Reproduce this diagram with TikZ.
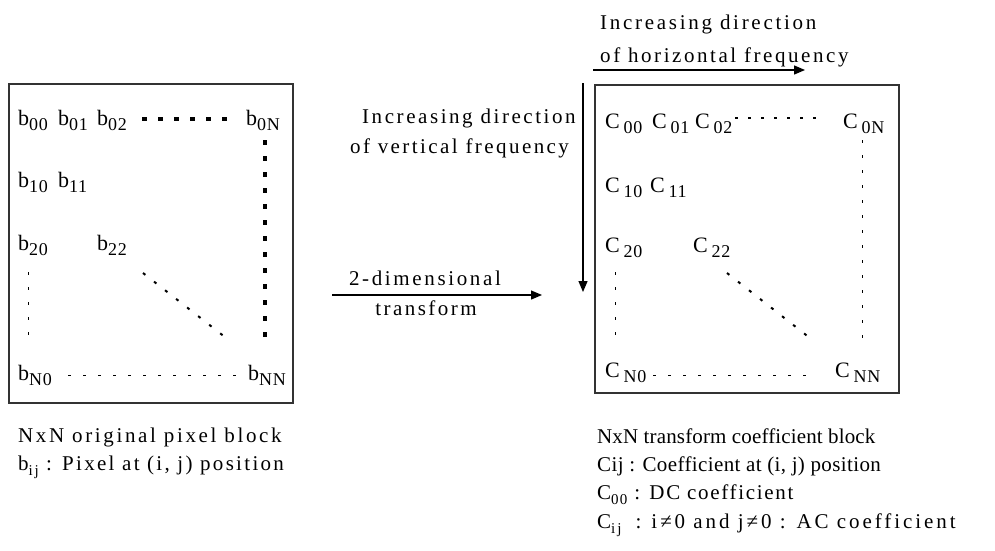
\documentclass[tikz,border=0pt]{standalone}
\usepackage{fontspec}
\setmainfont{Liberation Serif}
\usetikzlibrary{arrows.meta,calc}
\newcommand\lo[2][18]{\raisebox{-5pt}{\fontsize{#1}{#1}\selectfont #2}}
\begin{document}
\begin{tikzpicture}[x=1pt,y=-1pt,
  box/.style={draw=black!80, line width=1.3pt, inner sep=0pt},
  ent/.style={anchor=base west, inner sep=0pt, font=\fontsize{22}{22}\selectfont\addfontfeature{LetterSpace=4}},
  txt/.style={anchor=base west, inner sep=0pt, font=\fontsize{21}{24}\selectfont\addfontfeature{LetterSpace=#1}},
  txt/.default=12,
  bigdots/.style={line width=3.5pt, dash pattern=on 5pt off 11pt},
  meddots/.style={line width=2.8pt, dash pattern=on 3pt off 10pt},
  thindash/.style={line width=1pt, dash pattern=on 3pt off 12pt},
  diag/.style={line width=2pt, dash pattern=on 3pt off 11pt},
  arr/.style={line width=1.3pt, -{Triangle[length=11pt,width=9pt]}}]
\useasboundingbox (0,0) rectangle (995,550);

% boxes
\node[box, minimum width=284pt, minimum height=319pt] (Lbox) at (151,243.5) {};
\node[box, minimum width=304pt, minimum height=308pt] (Rbox) at (747,239) {};

% left entries
\node[ent] (b00) at (18,125) {b\lo{00}};
\node[ent] (b01) at (58,125) {b\lo{01}};
\node[ent] (b02) at (97,125) {b\lo{02}};
\node[ent] (b0N) at (246,125) {b\lo{0N}};
\node[ent] (b10) at (18,187) {b\lo{10}};
\node[ent] (b11) at (58,187) {b\lo{11}};
\node[ent] (b20) at (18,250) {b\lo{20}};
\node[ent] (b22) at (97,250) {b\lo{22}};
\node[ent] (bN0) at (18,380) {b\lo{N0}};
\node[ent] (bNN) at (248,380) {b\lo{NN}};

\draw[bigdots] ($(b02.base west)+(45,-6)$) -- ($(b0N.base west)+(-8,-6)$);
\draw[bigdots] ($(b0N.base west)+(19,15)$) -- ($(bNN.base west)+(17,-37)$);
\draw[thindash] ($(b20.base west)+(10,22)$) -- ($(bN0.base west)+(10,-43)$);
\draw[diag] ($(b22.base west)+(46,23)$) -- ($(bNN.base west)+(-18,-39)$);
\draw[thindash] ($(bN0.base west)+(50,-5)$) -- ($(bNN.base west)+(-11,-5)$);

% right entries
\node[ent] (C00) at (605,128) {C\,\lo{00}};
\node[ent] (C01) at (652,128) {C\,\lo{01}};
\node[ent] (C02) at (695,128) {C\,\lo{02}};
\node[ent] (C0N) at (843,128) {C\,\lo{0N}};
\node[ent] (C10) at (605,192) {C\,\lo{10}};
\node[ent] (C11) at (650,192) {C\,\lo{11}};
\node[ent] (C20) at (605,252) {C\,\lo{20}};
\node[ent] (C22) at (693,252) {C\,\lo{22}};
\node[ent] (CN0) at (605,377) {C\,\lo{N0}};
\node[ent] (CNN) at (835,377) {C\,\lo{NN}};

\draw[meddots] ($(C02.base west)+(40,-10)$) -- ($(C0N.base west)+(-23,-10)$);
\draw[thindash] ($(C0N.base west)+(19,12)$) -- ($(CNN.base west)+(27,-34)$);
\draw[thindash] ($(C20.base west)+(10,20)$) -- ($(CN0.base west)+(10,-40)$);
\draw[diag] ($(C22.base west)+(34,21)$) -- ($(CNN.base west)+(-20,-35)$);
\draw[thindash] ($(CN0.base west)+(48,-2)$) -- ($(CNN.base west)+(-25,-2)$);

% arrows
\coordinate (hs) at (593,70);
\coordinate (he) at (805,70);
\coordinate (vs) at (583,83);
\coordinate (ve) at (583,292);
\coordinate (ms) at (332,295);
\coordinate (me) at (542,295);
\draw[arr] (hs) -- (he);
\draw[arr] (vs) -- (ve);
\draw[arr] (ms) -- (me);

% labels
\node[txt=12.9] (t1) at (600,29) {Increasing direction};
\node[txt=12.2] (t2) at (600,62) {of horizontal frequency};
\node[txt=12.2] (v1) at (362,123) {Increasing direction};
\node[txt=11.6] (v2) at (350,153) {of vertical frequency};
\node[txt=12.6, anchor=base] (m1) at (425,285) {2-dimensional};
\node[txt=11.7, anchor=base] (m2) at (426,315) {transform};

\node[txt=12.6] (l1) at (18,442) {NxN original pixel block};
\node[txt=11] (l2) at (18,470) {b\lo[15]{ij} : Pixel at (i, j) position};

\node[txt=0.7] (r1) at (597,443) {NxN transform coefficient block};
\node[txt=1.8] (r2) at (597,471) {Cij : Coefficient at (i, j) position};
\node[txt=8] (r3) at (597,499) {C\lo[15]{00} : DC coefficient};
\node[txt=14] (r4) at (597,528) {C\lo[15]{ij}\hspace{14pt}:\hspace{10pt}i≠0 and j≠0 : AC coefficient};
\end{tikzpicture}
\end{document}
